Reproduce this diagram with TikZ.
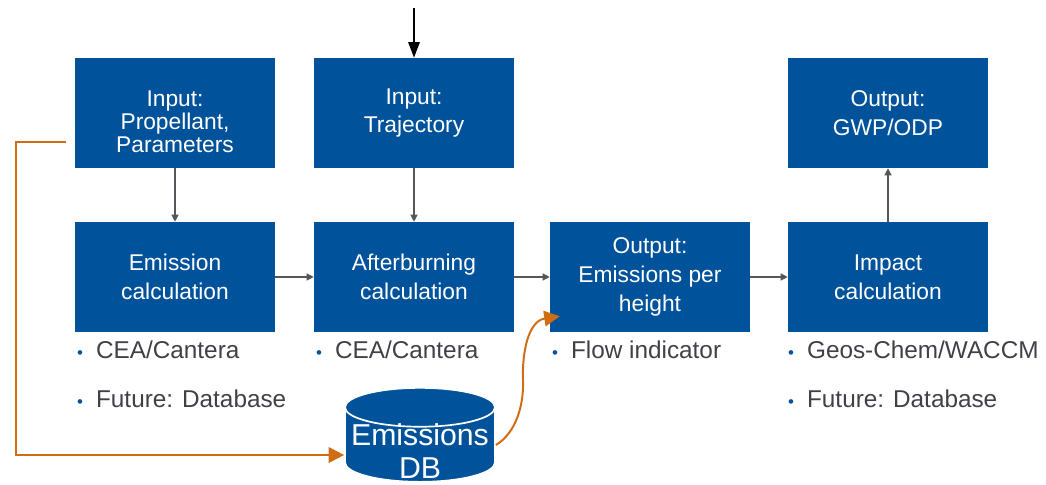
\documentclass[tikz,border=0pt]{standalone}
\usepackage{fontspec}
\setmainfont{Liberation Sans}
\usetikzlibrary{positioning,shapes.geometric,arrows.meta}

\definecolor{boxblue}{RGB}{0,82,155}
\definecolor{dborange}{RGB}{208,108,18}
\definecolor{txtgrey}{RGB}{64,64,72}
\definecolor{arrgrey}{RGB}{85,85,90}

\tikzset{
  block/.style={fill=boxblue,text=white,minimum width=5cm,minimum height=2.75cm,
    align=center,font=\fontsize{16.2}{20.5}\selectfont,inner sep=2pt},
  bullets/.style={anchor=north west,align=left,inner sep=0pt,text=txtgrey,
    font=\fontsize{17.3}{20}\selectfont},
  flow/.style={draw=arrgrey,line width=0.8pt,-{Triangle[length=5pt,width=5pt]}},
  dbflow/.style={draw=dborange,line width=1.4pt,-{Triangle[length=11pt,width=11pt]}}
}
\newcommand{\bul}{{\color{boxblue}\fontsize{12}{12}\selectfont\textbullet}\hspace{0.33cm}}

\begin{document}
\begin{tikzpicture}
\useasboundingbox (0,0) rectangle (26.15,12.125);

% upper row
\node[block] (prop) at (4.375,9.3)
  {\rule{0pt}{24pt}Input:\\[-4pt]Propellant,\\[-4pt]Parameters};
\node[block] (traj) at (10.35,9.3) {Input:\\Trajectory};
\node[block] (gwp) at (22.2,9.3) {Output:\\GWP/ODP};

% lower row
\node[block] (emis) at (4.375,5.2) {Emission\\calculation};
\node[block] (after) at (10.35,5.2) {Afterburning\\calculation};
\node[block] (out) at (16.25,5.2) {Output:\\Emissions per\\height};
\node[block] (impact) at (22.2,5.2) {Impact\\calculation};

% notes under the blocks
\node[bullets,below right=0.2cm and 0.05cm of emis.south west] (emisnote)
  {\bul CEA/Cantera\\[15pt]\bul Future: Database};
\node[bullets,below right=0.2cm and 0.05cm of after.south west] (afternote)
  {\bul CEA/Cantera};
\node[bullets,below right=0.2cm and 0.05cm of out.south west] (outnote)
  {\bul Flow indicator};
\node[bullets,below right=0.2cm and 0.0cm of impact.south west] (impactnote)
  {\bul Geos-Chem/WACCM\\[15pt]\bul Future: Database};

% database
\node[cylinder,shape border rotate=90,aspect=0.27,minimum width=3.75cm,
  minimum height=2.35cm,fill=boxblue,draw=white,line width=1.2pt,inner sep=0pt,
  label={[text=white,align=center,font=\fontsize{21.5}{24}\selectfont,
    yshift=-0.15cm]center:{Emissions\\DB}}] (db) at (10.5,1.0) {\rule{3.6cm}{0pt}};

% flow
\coordinate (trajin) at ([yshift=1.25cm]traj.north);
\draw[line width=1.3pt,-{Triangle[length=11pt,width=8pt]}] (trajin) -- (traj.north);
\draw[flow] (prop) -- (emis);
\draw[flow] (traj) -- (after);
\draw[flow] (emis) -- (after);
\draw[flow] (after) -- (out);
\draw[flow] (out) -- (impact);
\draw[flow] (impact) -- (gwp);

% database links
\coordinate (propout) at (1.65,8.575);
\draw[dbflow] (propout) -- (0.4,8.575) |- ([yshift=-0.25cm]db.west);
\draw[dbflow] (db.east) .. controls (12.9,1.3) and (13.1,2.0) .. (13.075,2.625)
  .. controls (13.05,3.3) and (13.2,4.1) .. ([xshift=0.25cm,yshift=0.4cm]out.south west);

\end{tikzpicture}
\end{document}
